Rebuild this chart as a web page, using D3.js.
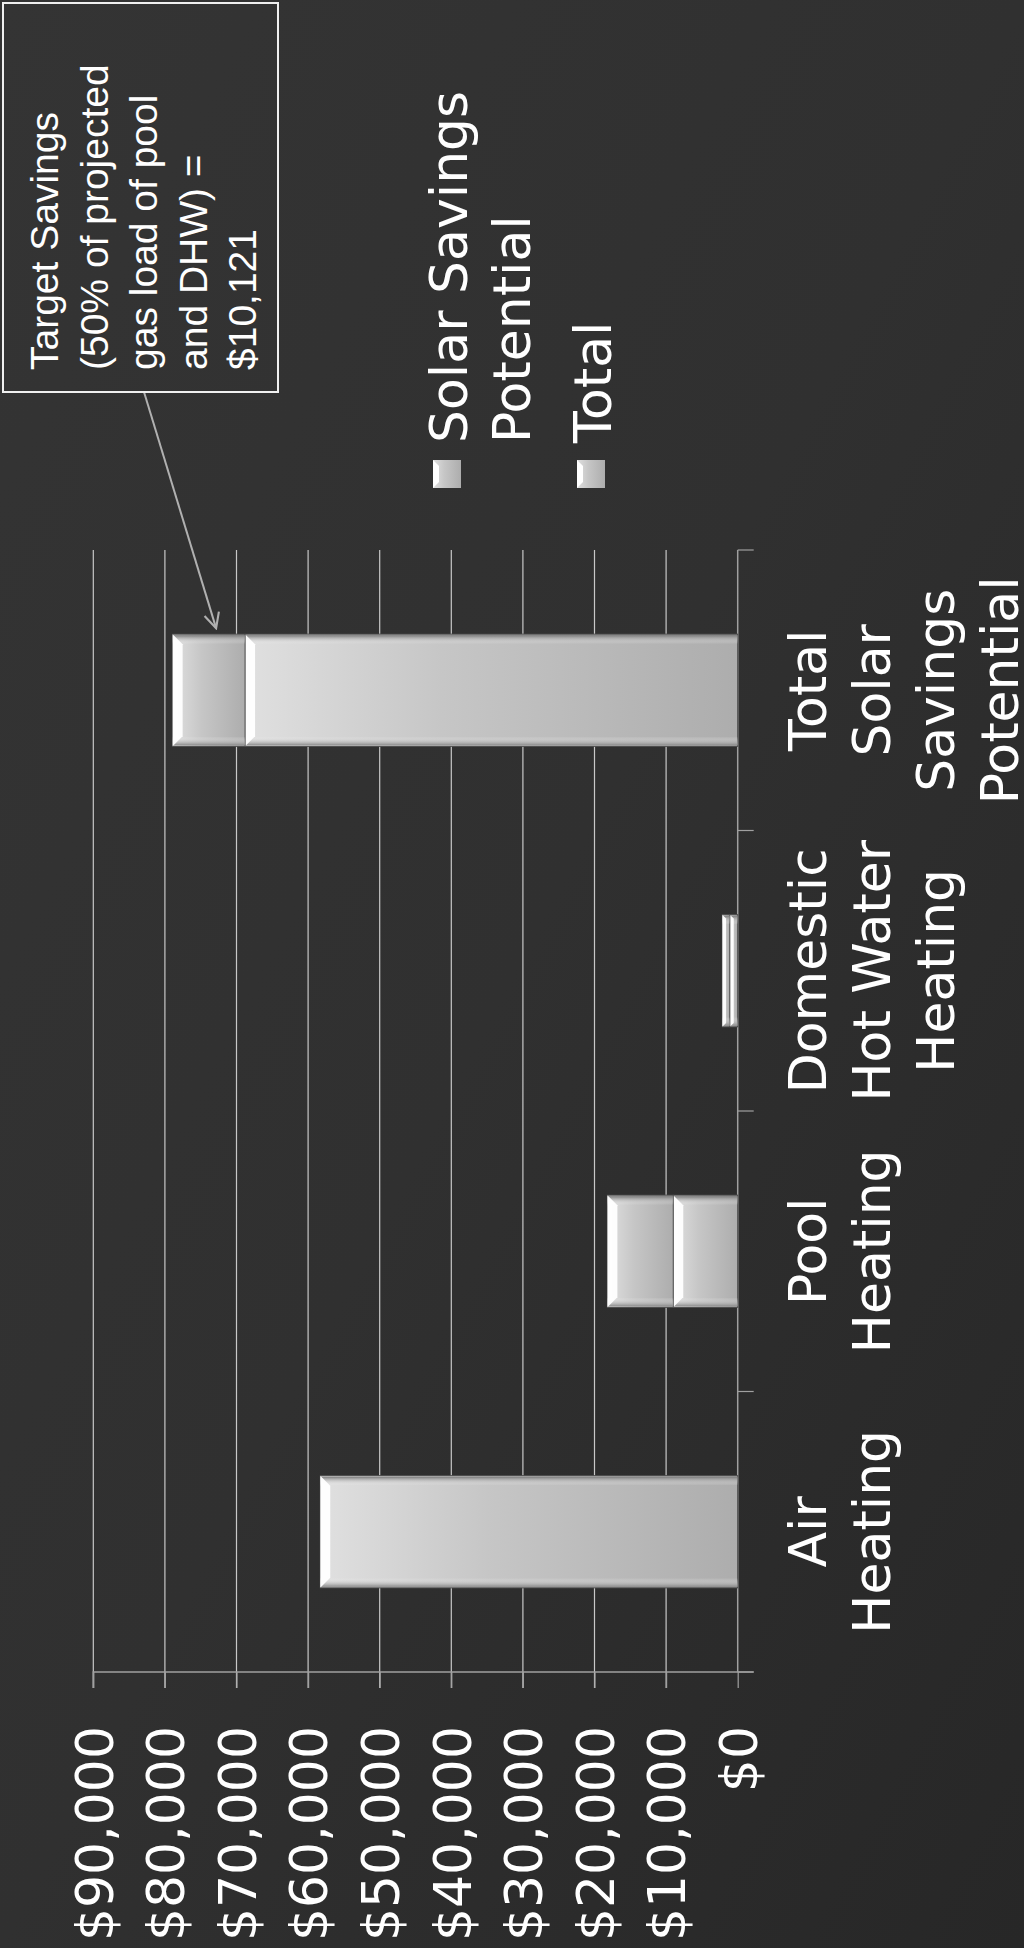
<!DOCTYPE html>
<html lang="en">
<head>
    <meta charset="UTF-8">
    <title>Solar Savings</title>
    <script src="https://cdn.jsdelivr.net/npm/d3@7"></script>
    <style>
        body { margin: 0; background: #2e2e2e; }
    </style>
</head>
<body>
</body>
<script>
    const width = 1024;
    const height = 1948;

    // chart data
    const categories = ["Air Heating", "Pool Heating", "Domestic Hot Water Heating", "Total Solar Savings Potential"];
    const categoryLines = [["Air", "Heating"], ["Pool", "Heating"], ["Domestic", "Hot Water", "Heating"], ["Total", "Solar", "Savings", "Potential"]];
    const totalValues = [58300, 9000, 1100, 68800];
    const solarValues = [0, 9200, 1050, 10121];
    const seriesKeys = ["Total", "Solar Savings Potential"];
    const legendLabels = [["Solar Savings", "Potential"], ["Total"]];
    const tickValues = [0, 10000, 20000, 30000, 40000, 50000, 60000, 70000, 80000, 90000];
    const noteLines = ["Target Savings", "(50% of projected", "gas load of pool", "and DHW) =", "$10,121"];

    const rows = categories.map((c, i) => ({ cat: c, "Total": totalValues[i], "Solar Savings Potential": solarValues[i] }));

    const svg = d3.select("body")
        .append("svg")
        .attr("width", width)
        .attr("height", height);

    const defs = svg.append("defs");

    const bg = defs.append("linearGradient")
        .attr("id", "bg")
        .attr("x1", 0).attr("y1", 0).attr("x2", 1).attr("y2", 1);
    bg.append("stop").attr("offset", 0).attr("stop-color", "#343434");
    bg.append("stop").attr("offset", 0.5).attr("stop-color", "#303030");
    bg.append("stop").attr("offset", 1).attr("stop-color", "#272727");

    // bar shading runs along the value direction (y before rotation)
    const barGrad = defs.append("linearGradient")
        .attr("id", "barGrad")
        .attr("x1", 0).attr("y1", 0).attr("x2", 0).attr("y2", 1);
    barGrad.append("stop").attr("offset", 0).attr("stop-color", "#e0e0e0");
    barGrad.append("stop").attr("offset", 0.4).attr("stop-color", "#c6c6c6");
    barGrad.append("stop").attr("offset", 1).attr("stop-color", "#adadad");

    const edgeGrad = defs.append("linearGradient")
        .attr("id", "edgeGrad")
        .attr("x1", 0).attr("y1", 0).attr("x2", 1).attr("y2", 0);
    edgeGrad.append("stop").attr("offset", 0).attr("stop-color", "#888");
    edgeGrad.append("stop").attr("offset", 0.08).attr("stop-color", "#fff").attr("stop-opacity", 0);
    edgeGrad.append("stop").attr("offset", 0.92).attr("stop-color", "#fff").attr("stop-opacity", 0);
    edgeGrad.append("stop").attr("offset", 1).attr("stop-color", "#777");

    defs.append("marker")
        .attr("id", "arrow")
        .attr("viewBox", "0 0 12 12")
        .attr("refX", 11).attr("refY", 6)
        .attr("markerWidth", 9).attr("markerHeight", 9)
        .attr("orient", "auto")
        .append("path")
        .attr("d", "M1,1 L11,6 L1,11")
        .attr("fill", "none")
        .attr("stroke", "#b0b0b0")
        .attr("stroke-width", 1.4);

    svg.append("rect")
        .attr("width", width)
        .attr("height", height)
        .attr("fill", "url(#bg)");

    // whole chart is drawn upright and then turned a quarter turn to the left
    const g = svg.append("g")
        .attr("transform", `translate(0,${height}) rotate(-90)`);

    const x = d3.scaleBand()
        .domain(categories)
        .range([276, 1398])
        .paddingInner(0.6)
        .paddingOuter(0.3);

    const y = d3.scaleLinear()
        .domain([0, 90000])
        .range([737.7, 93.3]);

    // gridlines
    g.append("g")
        .selectAll("line")
        .data(tickValues.slice(1))
        .enter()
        .append("line")
        .attr("x1", 260)
        .attr("x2", 1398)
        .attr("y1", d => y(d))
        .attr("y2", d => y(d))
        .attr("stroke", "#c8c8c8")
        .attr("stroke-width", 1.2);

    // value axis
    const yAxis = g.append("g")
        .attr("transform", "translate(276,0)")
        .call(d3.axisLeft(y).tickValues(tickValues).tickSize(16).tickFormat(d3.format("$,")));
    yAxis.select(".domain").attr("stroke", "#a0a0a0").attr("stroke-width", 1.5)
        .attr("d", `M-16,${y(90000)}H0V${y(0) + 16}`);
    yAxis.selectAll(".tick line").attr("stroke", "#a0a0a0").attr("stroke-width", 1.2);
    yAxis.selectAll(".tick text")
        .attr("x", -54)
        .attr("dy", "0.36em")
        .attr("fill", "#fff")
        .style("font-family", "'DejaVu Sans', Verdana, sans-serif")
        .style("font-size", "52px");

    // category axis along $0
    const xAxis = g.append("g")
        .attr("transform", `translate(0,${y(0)})`);
    xAxis.append("line")
        .attr("x1", 276).attr("x2", 1398)
        .attr("stroke", "#a0a0a0").attr("stroke-width", 1.5);
    const step = x.step();
    xAxis.selectAll(".ctick")
        .data(d3.range(categories.length + 1))
        .enter()
        .append("line")
        .attr("class", "ctick")
        .attr("x1", i => x.range()[0] + i * step)
        .attr("x2", i => x.range()[0] + i * step)
        .attr("y1", 0)
        .attr("y2", 16)
        .attr("stroke", "#a0a0a0")
        .attr("stroke-width", 1.2);

    // category labels
    const catLabels = g.append("g")
        .selectAll("text")
        .data(categories)
        .enter()
        .append("text")
        .attr("text-anchor", "middle")
        .attr("fill", "#fff")
        .style("font-family", "'DejaVu Sans', Verdana, sans-serif")
        .style("font-size", "52px");
    catLabels.each(function (d, i) {
        const t = d3.select(this);
        categoryLines[i].forEach((line, j) => {
            t.append("tspan")
                .attr("x", x(d) + x.bandwidth() / 2)
                .attr("y", 826 + j * 64)
                .text(line);
        });
    });

    // stacked bars
    const stacked = d3.stack().keys(seriesKeys)(rows);
    const segs = [];
    stacked.forEach(s => s.forEach(d => {
        if (d[1] - d[0] > 0) segs.push({ cat: d.data.cat, y0: d[0], y1: d[1] });
    }));

    const bars = g.append("g")
        .selectAll("g")
        .data(segs)
        .enter()
        .append("g");

    bars.append("rect")
        .attr("x", d => x(d.cat))
        .attr("y", d => y(d.y1))
        .attr("width", x.bandwidth())
        .attr("height", d => y(d.y0) - y(d.y1))
        .attr("fill", "url(#barGrad)")
        .attr("stroke", "#4a4a4a")
        .attr("stroke-width", 1);

    bars.append("rect")
        .attr("x", d => x(d.cat) + 1)
        .attr("y", d => y(d.y1))
        .attr("width", x.bandwidth() - 2)
        .attr("height", d => y(d.y0) - y(d.y1))
        .attr("fill", "url(#edgeGrad)");

    // bevel highlight at the outer end of each segment
    bars.append("path")
        .attr("d", d => {
            const x0 = x(d.cat), w = x.bandwidth();
            const top = y(d.y1);
            const b = Math.min(10, (y(d.y0) - y(d.y1)) / 2);
            return `M${x0},${top}H${x0 + w}L${x0 + w - b},${top + b}H${x0 + b}Z`;
        })
        .attr("fill", "#fff")
        .attr("opacity", 0.95);

    // legend
    const legend = g.append("g")
        .style("font-family", "'DejaVu Sans', Verdana, sans-serif")
        .style("font-size", "52px");
    const legendRows = [447, 591];
    legendLabels.forEach((lines, i) => {
        legend.append("rect")
            .attr("x", 1460)
            .attr("y", legendRows[i] - 14)
            .attr("width", 28)
            .attr("height", 28)
            .attr("fill", "url(#barGrad)");
        legend.append("path")
            .attr("d", `M1460,${legendRows[i] - 14}h28l-6,6h-16z`)
            .attr("fill", "#fff");
        const t = legend.append("text").attr("fill", "#fff");
        lines.forEach((line, j) => {
            t.append("tspan")
                .attr("x", 1505)
                .attr("y", legendRows[i] + 20 + j * 63)
                .text(line);
        });
    });

    // annotation box with arrow to the target segment
    const lastCat = categories[categories.length - 1];
    const lastIdx = categories.length - 1;
    const tipX = x(lastCat) + x.bandwidth() + 6;
    const tipY = y(totalValues[lastIdx] + solarValues[lastIdx] * 0.4);

    g.append("line")
        .attr("x1", 1556)
        .attr("y1", 144)
        .attr("x2", tipX)
        .attr("y2", tipY)
        .attr("stroke", "#b0b0b0")
        .attr("stroke-width", 2)
        .attr("marker-end", "url(#arrow)");

    g.append("rect")
        .attr("x", 1556)
        .attr("y", 3)
        .attr("width", 389)
        .attr("height", 275)
        .attr("fill", "none")
        .attr("stroke", "#f0f0f0")
        .attr("stroke-width", 2);

    const note = g.append("text")
        .attr("fill", "#fff")
        .style("font-family", "'Liberation Sans', Arial, sans-serif")
        .style("font-size", "39px");
    noteLines.forEach((line, j) => {
        note.append("tspan")
            .attr("x", 1578)
            .attr("y", 58 + j * 49.5)
            .text(line);
    });
</script>
</html>
